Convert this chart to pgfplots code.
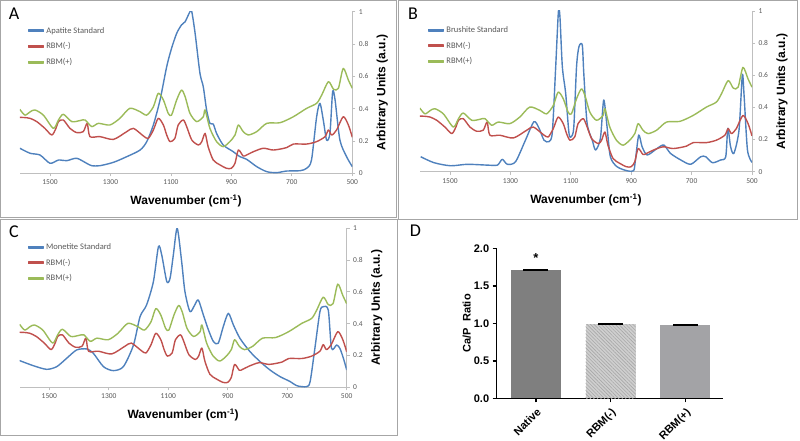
\documentclass[border=0pt]{standalone}
\usepackage{pgfplots}
\pgfplotsset{compat=1.18}
\usepackage{pgfplotstable}
\usetikzlibrary{patterns.meta}
\usepackage{fontspec}
\setmainfont{Carlito}
\newfontfamily\arial{Liberation Sans}
\definecolor{xblue}{HTML}{4F81BD}
\definecolor{xred}{HTML}{C0504D}
\definecolor{xgreen}{HTML}{9BBB59}
\definecolor{axgray}{HTML}{BFBFBF}
\definecolor{txgray}{HTML}{595959}
\definecolor{framegray}{HTML}{A6A6A6}
\definecolor{native}{HTML}{7F7F7F}
\definecolor{minusfill}{HTML}{CFCFCF}
\definecolor{minusline}{HTML}{A8A8A8}
\definecolor{plusfill}{HTML}{A3A3A6}

\pgfplotstableread{
x y
1600 0.346
1585 0.345
1566 0.34
1544 0.32
1517 0.278
1494 0.237
1480 0.28
1472 0.32
1456 0.33
1434 0.278
1412 0.252
1390 0.258
1377 0.309
1368 0.227
1335 0.227
1290 0.21
1246 0.258
1224 0.278
1191 0.231
1175 0.216
1158 0.268
1142 0.34
1125 0.299
1114 0.237
1103 0.196
1087 0.216
1076 0.299
1059 0.33
1048 0.289
1031 0.206
1009 0.175
998 0.196
987 0.247
977 0.165
960 0.082
938 0.052
916 0.031
900 0.031
888 0.062
877 0.144
861 0.107
850 0.113
827 0.134
794 0.155
761 0.144
717 0.159
695 0.181
651 0.181
618 0.196
590 0.227
579 0.268
568 0.237
552 0.268
530 0.35
513 0.299
500 0.223
}\rbmminus

\pgfplotstableread{
x y
1600 0.396
1583 0.36
1566 0.38
1550 0.392
1522 0.36
1489 0.278
1472 0.33
1456 0.365
1428 0.32
1401 0.326
1384 0.33
1362 0.289
1340 0.309
1302 0.299
1269 0.34
1236 0.402
1202 0.381
1180 0.36
1158 0.412
1142 0.495
1125 0.454
1109 0.371
1098 0.36
1081 0.454
1065 0.515
1053 0.474
1037 0.371
1015 0.32
993 0.35
987 0.392
971 0.278
949 0.196
927 0.165
905 0.196
888 0.237
877 0.299
861 0.258
844 0.237
816 0.258
783 0.309
739 0.313
695 0.35
651 0.402
618 0.433
601 0.485
579 0.567
562 0.52
546 0.526
530 0.649
513 0.577
500 0.526
}\rbmplus

\pgfplotstableread{
x y
1600 0.155
1566 0.124
1533 0.113
1500 0.062
1472 0.082
1445 0.078
1412 0.093
1379 0.062
1362 0.047
1335 0.047
1290 0.068
1246 0.103
1202 0.144
1180 0.196
1158 0.3
1136 0.454
1114 0.66
1098 0.773
1081 0.866
1065 0.918
1053 0.938
1037 1.0
1031 1.0
1020 0.866
1004 0.619
993 0.536
982 0.392
971 0.309
960 0.305
949 0.247
927 0.175
894 0.134
872 0.103
850 0.087
816 0.041
783 0.01
750 0.004
717 0.014
673 0.016
651 0.031
635 0.082
618 0.35
607 0.433
596 0.33
585 0.206
574 0.247
565 0.505
557 0.454
541 0.206
519 0.103
500 0.041
}\apatite

\pgfplotstableread{
x y
1597 0.093
1553 0.056
1498 0.037
1443 0.046
1377 0.041
1343 0.041
1327 0.077
1310 0.046
1283 0.062
1250 0.197
1222 0.311
1205 0.27
1189 0.197
1172 0.187
1161 0.249
1150 0.653
1141 0.996
1136 0.965
1128 0.653
1117 0.488
1106 0.239
1098 0.218
1090 0.28
1081 0.653
1073 0.778
1062 0.788
1057 0.612
1046 0.301
1029 0.197
1018 0.135
1002 0.207
991 0.446
980 0.28
969 0.093
947 0.031
914 0.006
892 0.006
886 0.073
875 0.228
864 0.156
847 0.104
814 0.145
792 0.166
770 0.114
736 0.073
703 0.046
670 0.093
653 0.093
631 0.056
604 0.073
587 0.093
580 0.27
571 0.156
560 0.114
543 0.259
532 0.602
526 0.467
515 0.135
500 0.058
}\brushite

\pgfplotstableread{
x y
1600 0.168
1554 0.136
1509 0.113
1475 0.13
1442 0.182
1408 0.235
1374 0.241
1352 0.214
1318 0.13
1285 0.105
1251 0.13
1217 0.266
1195 0.444
1173 0.518
1150 0.665
1133 0.885
1122 0.832
1105 0.665
1094 0.686
1083 0.832
1070 1.0
1055 0.79
1044 0.602
1027 0.476
1011 0.518
999 0.549
982 0.455
965 0.361
948 0.287
932 0.277
915 0.382
898 0.465
881 0.392
859 0.308
825 0.224
791 0.161
758 0.109
724 0.067
690 0.036
668 0.01
635 0.004
623 0.036
607 0.245
590 0.476
579 0.507
562 0.486
551 0.245
534 0.266
523 0.245
511 0.182
500 0.109
}\monetite

\pgfplotsset{
 spec/.style={
  scale only axis, x dir=reverse, xmin=500, xmax=1600, ymin=0, ymax=1,
  axis x line=bottom, axis y line=right,
  axis line style={draw=axgray, line width=0.8pt, -},
  xtick={500,700,900,1100,1300,1500}, ytick={0,0.2,0.4,0.6,0.8,1},
  tick align=outside, major tick length=3pt,
  tick style={draw=axgray, line width=0.8pt},
  ticklabel style={font=\fontsize{7.5}{9}\selectfont, text=txgray},
  /pgf/number format/assume math mode=true,
  /pgf/number format/1000 sep={},
  xlabel={Wavenumber (cm\textsuperscript{-1})},
  ylabel={Arbitrary Units (a.u.)},
  every axis x label/.style={at={(axis description cs:0.5,0)}, yshift=-28pt, anchor=center,
     font=\arial\bfseries\fontsize{12}{14}\selectfont},
  every axis y label/.style={at={(axis description cs:1,0.5)}, xshift=30pt, rotate=90, anchor=center,
     font=\arial\bfseries\fontsize{12}{14}\selectfont},
  legend style={at={(axis description cs:0.015,0.93)}, anchor=north west, draw=none, fill=none,
    font=\fontsize{8.5}{10}\selectfont, text=txgray, row sep=4pt},
  legend cell align=left,
  every axis plot/.append style={line width=1.4pt, smooth, tension=0.45, line join=round},
 }
}

\begin{document}
\begin{tikzpicture}[x=1pt,y=1pt]
\useasboundingbox (0,0) rectangle (800,441);
\draw[framegray, line width=0.8pt] (0.5,440.5) rectangle (396.5,223.5);
\draw[framegray, line width=0.8pt] (398.5,440.5) rectangle (797.5,222);
\draw[framegray, line width=0.8pt] (0.5,221.5) rectangle (397,5.5);

\node[font=\fontsize{18}{20}\selectfont] at (14,427) {A};
\node[font=\fontsize{18}{20}\selectfont] at (413,427) {B};
\node[font=\fontsize{18}{20}\selectfont] at (14,209.5) {C};
\node[font=\fontsize{18}{20}\selectfont] at (415.5,210.5) {D};

\begin{axis}[spec, at={(19.8pt,267.7pt)}, anchor=south west, width=332.5pt, height=161.6pt]
\addplot[xblue, legend image code/.code={\fill[xblue] (0pt,-0.8pt) rectangle (15pt,0.8pt);}] table {\apatite};
\addlegendentry{Apatite Standard}
\addplot[xred, legend image code/.code={\fill[xred] (0pt,-0.8pt) rectangle (15pt,0.8pt);}] table {\rbmminus};
\addlegendentry{RBM(-)}
\addplot[xgreen, legend image code/.code={\fill[xgreen] (0pt,-0.8pt) rectangle (15pt,0.8pt);}] table {\rbmplus};
\addlegendentry{RBM(+)}
\end{axis}

\begin{axis}[spec, at={(419.8pt,269.3pt)}, anchor=south west, width=332.2pt, height=160.7pt]
\addplot[xblue, legend image code/.code={\fill[xblue] (0pt,-0.8pt) rectangle (15pt,0.8pt);}] table {\brushite};
\addlegendentry{Brushite Standard}
\addplot[xred, legend image code/.code={\fill[xred] (0pt,-0.8pt) rectangle (15pt,0.8pt);}] table {\rbmminus};
\addlegendentry{RBM(-)}
\addplot[xgreen, legend image code/.code={\fill[xgreen] (0pt,-0.8pt) rectangle (15pt,0.8pt);}] table {\rbmplus};
\addlegendentry{RBM(+)}
\end{axis}

\begin{axis}[spec, at={(19.6pt,53.7pt)}, anchor=south west, width=327.1pt, height=159pt]
\addplot[xblue, legend image code/.code={\fill[xblue] (0pt,-0.8pt) rectangle (15pt,0.8pt);}] table {\monetite};
\addlegendentry{Monetite Standard}
\addplot[xred, legend image code/.code={\fill[xred] (0pt,-0.8pt) rectangle (15pt,0.8pt);}] table {\rbmminus};
\addlegendentry{RBM(-)}
\addplot[xgreen, legend image code/.code={\fill[xgreen] (0pt,-0.8pt) rectangle (15pt,0.8pt);}] table {\rbmplus};
\addlegendentry{RBM(+)}
\end{axis}

\begin{axis}[at={(496.7pt,42.7pt)}, anchor=south west, scale only axis, width=226pt, height=150pt,
 xmin=-0.526, xmax=2.5, ymin=0, ymax=2,
 axis x line=bottom, axis y line=left, axis line style={line width=1.5pt, -},
 xtick={0,1,2}, xticklabels={Native,RBM(-),RBM(+)},
 ytick={0,0.5,1,1.5,2},
 yticklabel style={/pgf/number format/.cd, fixed, fixed zerofill, precision=1},
 tick align=outside, major tick length=4pt, tick style={line width=1.5pt, black},
 ticklabel style={font=\arial\bfseries\fontsize{11}{13}\selectfont},
 /pgf/number format/assume math mode=true,
 xticklabel style={rotate=45, anchor=north east},
 ylabel={Ca/P\ \ Ratio},
 every axis y label/.style={at={(axis description cs:0,0.5)}, xshift=-30pt, rotate=90, anchor=center, font=\arial\bfseries\fontsize{11}{13}\selectfont},
 bar width=0.67, clip=false]
\addplot[ybar, bar shift=0pt, fill=native, draw=none] coordinates {(0,1.71)};
\addplot[ybar, bar shift=0pt, fill=minusfill, draw=none,
  postaction={pattern={Lines[angle=-45, distance=2.5pt, line width=0.6pt]}, pattern color=minusline}] coordinates {(1,0.99)};
\addplot[ybar, bar shift=0pt, fill=plusfill, draw=none] coordinates {(2,0.98)};
\addplot[only marks, mark=-, mark size=12.5pt, mark options={line width=2.3pt, black}] coordinates {(0,1.71) (1,0.99) (2,0.98)};
\node[font=\arial\bfseries\fontsize{13}{15}\selectfont] at (axis cs:0,1.71) [yshift=12pt] {*};
\end{axis}
\end{tikzpicture}
\end{document}
